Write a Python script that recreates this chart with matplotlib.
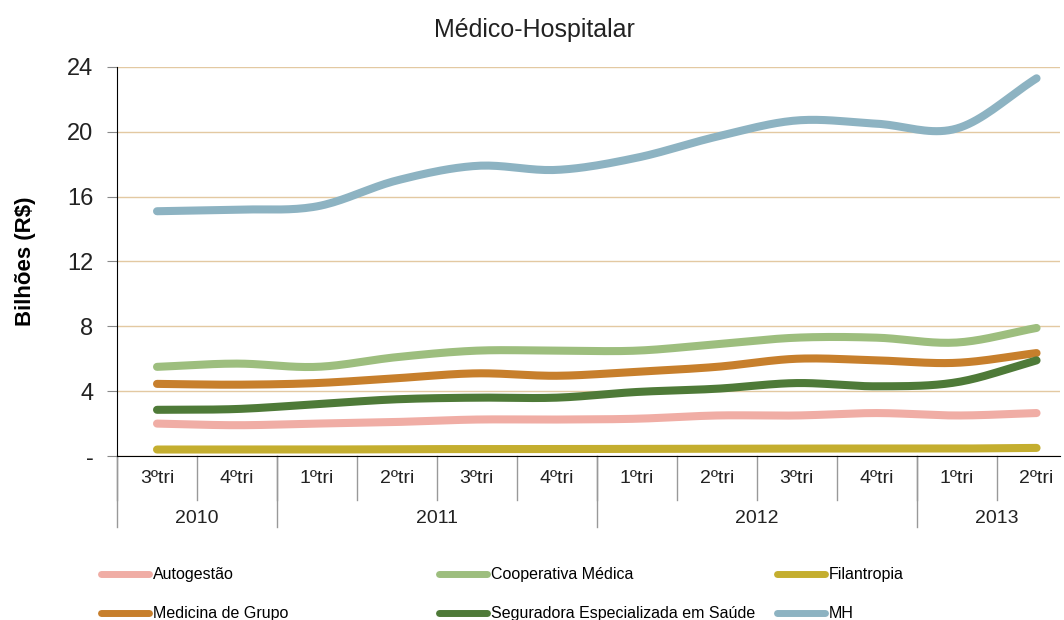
import numpy as np
import matplotlib
matplotlib.use("Agg")
import matplotlib.pyplot as plt
from matplotlib.lines import Line2D
from matplotlib import transforms

plt.rcParams['font.family'] = ['Liberation Sans', 'DejaVu Sans']

# dados (bilhões R$)
trimestres = ["3ºtri", "4ºtri", "1ºtri", "2ºtri", "3ºtri", "4ºtri",
              "1ºtri", "2ºtri", "3ºtri", "4ºtri", "1ºtri", "2ºtri"]
anos = ["2010", "2011", "2012", "2013"]
anos_n = [2, 4, 4, 2]  # trimestres por ano

autogestao = [2.0, 1.9, 2.0, 2.1, 2.25, 2.25, 2.3, 2.5, 2.5, 2.65, 2.5, 2.65]
cooperativa = [5.5, 5.7, 5.5, 6.1, 6.5, 6.5, 6.5, 6.9, 7.3, 7.3, 7.0, 7.9]
filantropia = [0.4, 0.4, 0.4, 0.42, 0.43, 0.43, 0.44, 0.45, 0.46, 0.46, 0.46, 0.5]
medicina = [4.45, 4.4, 4.5, 4.8, 5.1, 4.95, 5.2, 5.5, 6.0, 5.9, 5.75, 6.35]
seguradora = [2.85, 2.9, 3.2, 3.5, 3.6, 3.6, 3.95, 4.15, 4.5, 4.3, 4.55, 5.9]
mh = [15.1, 15.2, 15.4, 17.0, 17.9, 17.65, 18.4, 19.7, 20.7, 20.5, 20.2, 23.3]

series = [
    ("Autogestão", autogestao, "#f0ada5"),
    ("Cooperativa Médica", cooperativa, "#9dbe7e"),
    ("Filantropia", filantropia, "#c4ae2f"),
    ("Medicina de Grupo", medicina, "#c77f2c"),
    ("Seguradora Especializada em Saúde", seguradora, "#4e7a38"),
    ("MH", mh, "#8db3c2"),
]


def suavizar(x, y, n=20):
    """Curva suave tipo Catmull-Rom (como a linha suavizada do Excel)."""
    x = np.asarray(x, float)
    y = np.asarray(y, float)
    px = np.concatenate([[2 * x[0] - x[1]], x, [2 * x[-1] - x[-2]]])
    py = np.concatenate([[2 * y[0] - y[1]], y, [2 * y[-1] - y[-2]]])
    xs, ys = [], []
    t = np.linspace(0, 1, n, endpoint=False)
    for i in range(1, len(px) - 2):
        for arr, out in ((px, xs), (py, ys)):
            p0, p1, p2, p3 = arr[i - 1], arr[i], arr[i + 1], arr[i + 2]
            out.extend(0.5 * ((2 * p1) + (-p0 + p2) * t
                              + (2 * p0 - 5 * p1 + 4 * p2 - p3) * t ** 2
                              + (-p0 + 3 * p1 - 3 * p2 + p3) * t ** 3))
    xs.append(x[-1])
    ys.append(y[-1])
    return np.array(xs), np.array(ys)


fig = plt.figure(figsize=(10.64, 6.2), dpi=100)
ax = fig.add_axes([0.110, 0.2645, 0.886, 0.6275])

x = np.arange(len(trimestres))
for nome, vals, cor in series:
    xs, ys = suavizar(x, vals)
    ax.plot(xs, ys, color=cor, lw=5.8, solid_capstyle='round', zorder=3)

ax.set_xlim(-0.5, 11.29)
ax.set_ylim(0, 24)
ax.set_yticks([0, 4, 8, 12, 16, 20, 24])
ax.set_yticklabels(["-", "4", "8", "12", "16", "20", "24"], fontsize=17, color="#222222")
ax.yaxis.grid(True, color="#e3c9a2", lw=1)
ax.set_axisbelow(True)
ax.tick_params(axis='y', length=7, color="#888888", pad=10)
ax.set_xticks([])

for s in ["top", "right"]:
    ax.spines[s].set_visible(False)
ax.spines["left"].set_color("black")
ax.spines["bottom"].set_color("black")

ax.set_ylabel("Bilhões (R$)", fontsize=16, fontweight='bold', labelpad=22)
fig.text(0.502, 0.952, "Médico-Hospitalar", ha='center', va='center',
         fontsize=18, color="#222222")

# eixo x em dois níveis
trans = transforms.blended_transform_factory(ax.transData, ax.transAxes)
for i, lab in enumerate(trimestres):
    ax.text(i, -0.058, lab, transform=trans, ha='center', va='center',
            fontsize=14, color="#222222")
for i in range(len(trimestres)):
    ax.add_line(Line2D([i - 0.5, i - 0.5], [0, -0.113], transform=trans,
                       color="#999999", lw=1, clip_on=False))
inicio = 0
for ano, n in zip(anos, anos_n):
    ax.text(inicio + (n - 1) / 2, -0.16, ano, transform=trans, ha='center',
            va='center', fontsize=14, color="#222222")
    ax.add_line(Line2D([inicio - 0.5, inicio - 0.5], [0, -0.183], transform=trans,
                       color="#999999", lw=1, clip_on=False))
    inicio += n

# legenda: três colunas, duas linhas
colunas_x = [0.095, 0.413, 0.730]
for col, x0 in enumerate(colunas_x):
    idx = [col, col + 3]
    handles = [Line2D([0], [0], color=series[i][2], lw=5, solid_capstyle='round') for i in idx]
    labels = [series[i][0] for i in idx]
    leg = fig.legend(handles, labels, loc='upper left', bbox_to_anchor=(x0, 0.085),
                     frameon=False, handlelength=3.0, handletextpad=0.25,
                     labelspacing=1.5, borderpad=0, borderaxespad=0,
                     prop={'size': 11.5})

fig.savefig("out.png", dpi=100)
